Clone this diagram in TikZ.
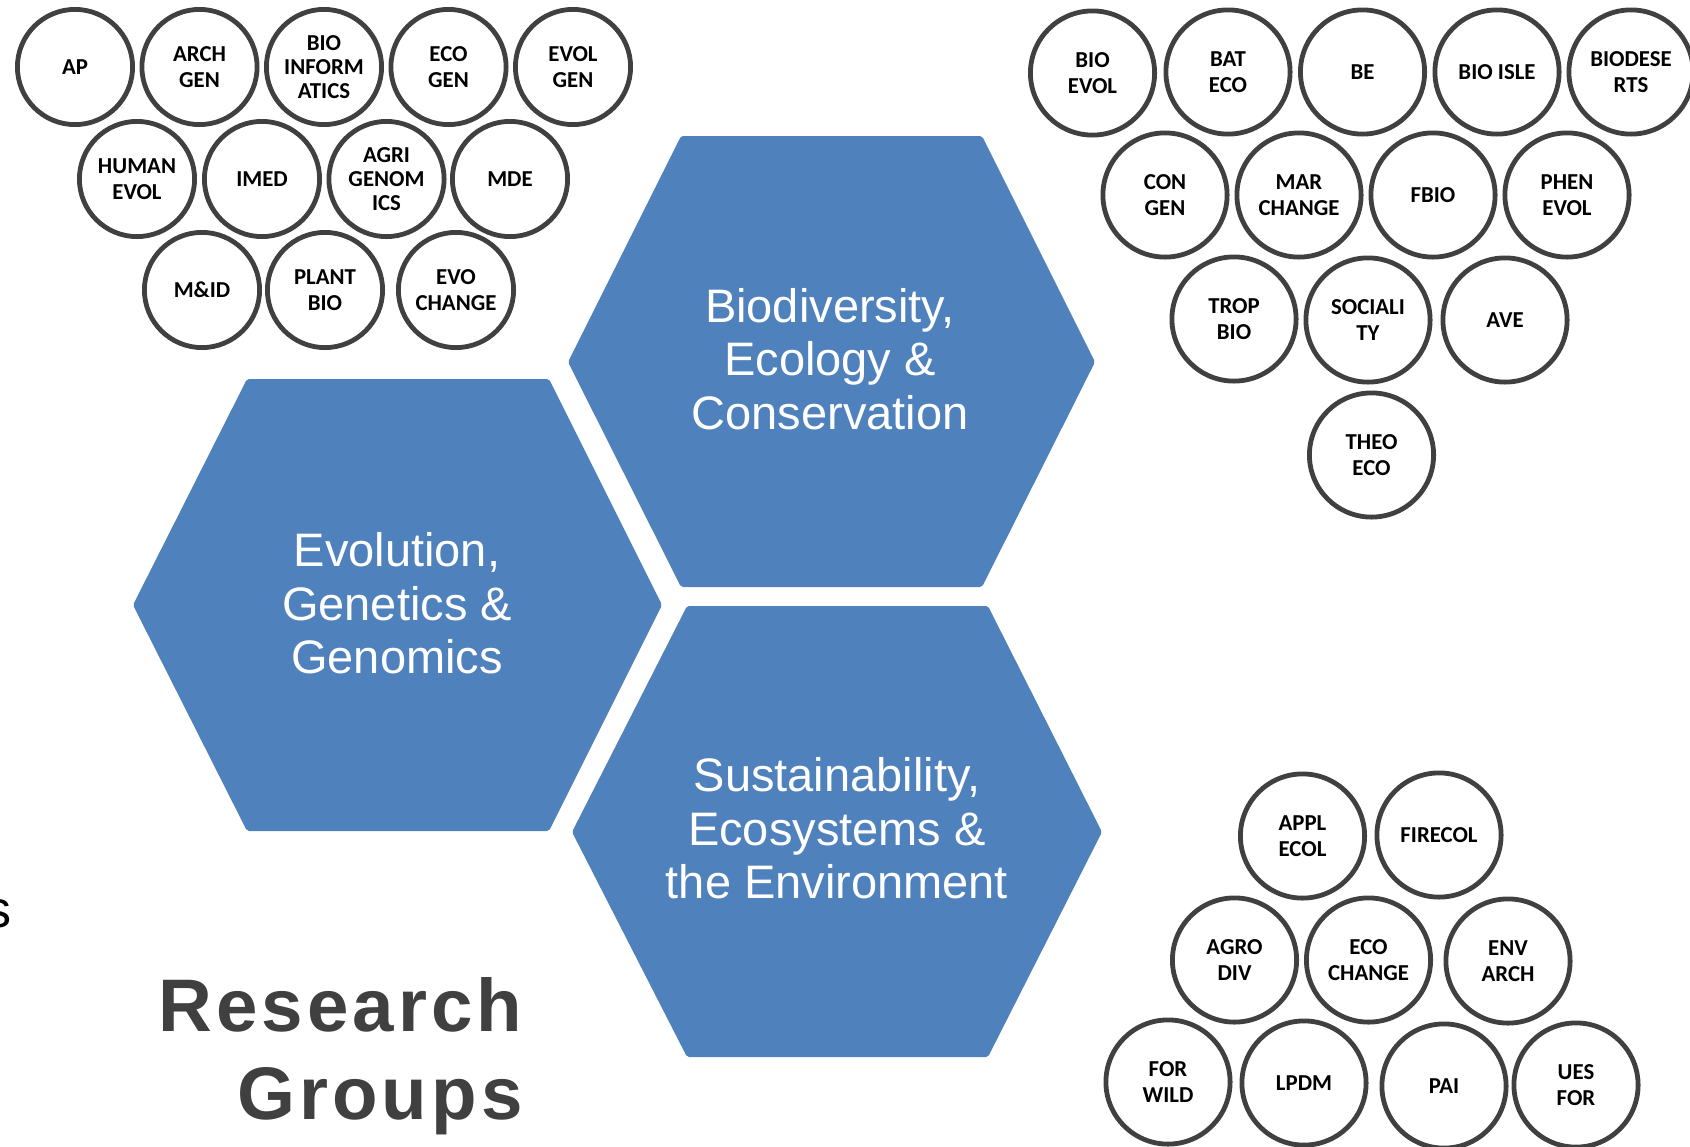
\documentclass[tikz,border=0pt]{standalone}
\usepackage{fontspec}
\setmainfont{Liberation Sans}
\newfontfamily\calibri{Carlito}
\newfontfamily\titlefont[LetterSpace=5.5]{Liberation Sans}
\definecolor{hexblue}{HTML}{4F81BD}
\definecolor{ring}{HTML}{404040}
\definecolor{titlegray}{HTML}{404040}
\tikzset{
  grp/.style={circle, draw=ring, line width=2.4pt, fill=white, inner sep=0pt, align=center,
    font=\calibri\bfseries\fontsize{11.4}{13.3}\selectfont, text=black},
  grpS/.style={grp, minimum size=57.6pt},
  grpL/.style={grp, minimum size=62.1pt},
  tight/.style={font=\calibri\bfseries\fontsize{11.4}{12}\selectfont},
  hexfill/.style={fill=hexblue, rounded corners=1pt},
  hexlabel/.style={text=white, align=center, inner sep=0pt,
    font=\fontsize{23.5}{26.7}\selectfont},
  titletext/.style={text=titlegray, inner sep=0pt, anchor=base east,
    font=\titlefont\bfseries\fontsize{37.25}{44}\selectfont},
}
\begin{document}
\begin{tikzpicture}[x=0.5pt, y=-0.5pt]
\useasboundingbox (0,0) rectangle (1690,1146);
\clip (0,0) rectangle (1690,1146);

% hexagons
\path[hexfill] (568,362) -- (681,136) -- (982,136) -- (1095,362) -- (982,587) -- (681,587) -- cycle;
\path[hexfill] (133,605) -- (247,379) -- (549,379) -- (662,605) -- (549,831) -- (247,831) -- cycle;
\path[hexfill] (572,832) -- (687,606) -- (988,606) -- (1102,832) -- (988,1057) -- (687,1057) -- cycle;

\node[hexlabel] (biodiv) at (830,359) {Biodiversity,\\Ecology \&\\Conservation};
\node[hexlabel] (evolution) at (397,603.5) {Evolution,\\Genetics \&\\Genomics};
\node[hexlabel] (sustain) at (837,828.5) {Sustainability,\\Ecosystems \&\\the Environment};

% top-left group
\node[grpS] (ap) at (75,67) {AP};
\node[grpS] (archgen) at (199.5,67) {ARCH\\GEN};
\node[grpS, tight] (bioinf) at (324,67) {BIO\\INFORM\\ATICS};
\node[grpS] (ecogen) at (448.5,67) {ECO\\GEN};
\node[grpS] (evolgen) at (573,67) {EVOL\\GEN};
\node[grpS] (humanevol) at (137,179) {HUMAN\\EVOL};
\node[grpS] (imed) at (262,179) {IMED};
\node[grpS, tight] (agrigen) at (386.5,179) {AGRI\\GENOM\\ICS};
\node[grpS] (mde) at (510,179) {MDE};
\node[grpS] (mid) at (202,290) {M\&ID};
\node[grpS] (plantbio) at (325,290) {PLANT\\BIO};
\node[grpS] (evochange) at (456,290) {EVO\\CHANGE};

% top-right group
\node[grpL] (bioevol) at (1092.5,73) {BIO\\EVOL};
\node[grpL] (bateco) at (1228,72) {BAT\\ECO};
\node[grpL] (be) at (1362.5,72) {BE};
\node[grpL] (bioisle) at (1497,72) {BIO ISLE};
\node[grpL] (biodeserts) at (1631,72) {BIODESE\\RTS};
\node[grpL] (congen) at (1165,195) {CON\\GEN};
\node[grpL] (marchange) at (1299,195) {MAR\\CHANGE};
\node[grpL] (fbio) at (1433,195) {FBIO};
\node[grpL] (phenevol) at (1567,195) {PHEN\\EVOL};
\node[grpL] (tropbio) at (1234,319) {TROP\\BIO};
\node[grpL] (sociality) at (1368,320) {SOCIALI\\TY};
\node[grpL] (ave) at (1505,320) {AVE};
\node[grpL] (theoeco) at (1371.5,455) {THEO\\ECO};

% bottom-right group
\node[grpL] (applecol) at (1302.5,836) {APPL\\ECOL};
\node[grpL] (firecol) at (1439,835) {FIRECOL};
\node[grpL] (agrodiv) at (1234.5,960) {AGRO\\DIV};
\node[grpL] (ecochange) at (1368.5,960) {ECO\\CHANGE};
\node[grpL] (envarch) at (1508,961) {ENV\\ARCH};
\node[grpL] (forwild) at (1168,1082) {FOR\\WILD};
\node[grpL] (lpdm) at (1304,1083) {LPDM};
\node[grpL] (pai) at (1444,1086) {PAI};
\node[grpL] (uesfor) at (1576,1085) {UES\\FOR};

% title
\node[titletext] (research) at (523,1031.7) {Research};
\node[titletext] (groups) at (523,1119.3) {Groups};

% cut-off letter at left edge (cut off in the reference too)
\node[inner sep=0pt, anchor=base east, text=black, font=\fontsize{26}{30}\selectfont] (cutoff) at (11.5,927) {s};
\end{tikzpicture}
\end{document}
